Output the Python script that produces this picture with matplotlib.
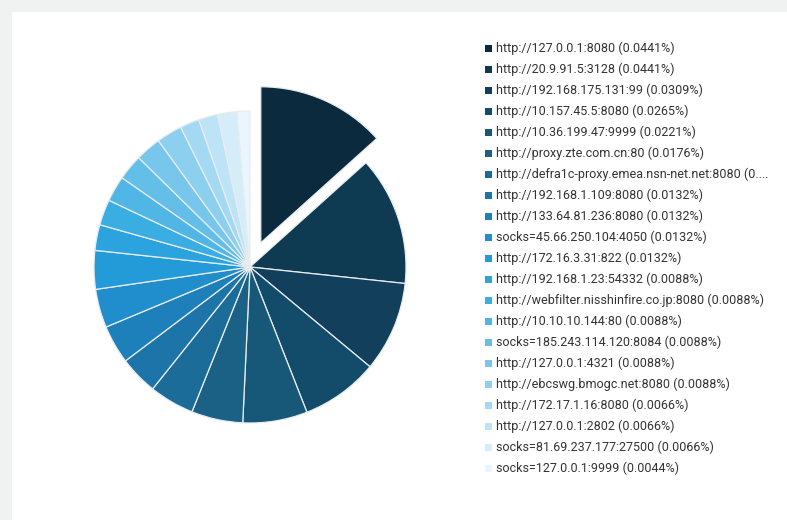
import matplotlib
matplotlib.use('Agg')
import matplotlib.pyplot as plt
from matplotlib.patches import Rectangle

plt.rcParams['font.family'] = ['Roboto', 'DejaVu Sans']

# proxy share (%)
proxies = [
    'http://127.0.0.1:8080', 'http://20.9.91.5:3128', 'http://192.168.175.131:99',
    'http://10.157.45.5:8080', 'http://10.36.199.47:9999', 'http://proxy.zte.com.cn:80',
    'http://defra1c-proxy.emea.nsn-net.net:8080', 'http://192.168.1.109:8080',
    'http://133.64.81.236:8080', 'socks=45.66.250.104:4050', 'http://172.16.3.31:822',
    'http://192.168.1.23:54332', 'http://webfilter.nisshinfire.co.jp:8080',
    'http://10.10.10.144:80', 'socks=185.243.114.120:8084', 'http://127.0.0.1:4321',
    'http://ebcswg.bmogc.net:8080', 'http://172.17.1.16:8080', 'http://127.0.0.1:2802',
    'socks=81.69.237.177:27500', 'socks=127.0.0.1:9999',
]
shares = [0.0441, 0.0441, 0.0309, 0.0265, 0.0221, 0.0176, 0.0154, 0.0132, 0.0132,
          0.0132, 0.0132, 0.0088, 0.0088, 0.0088, 0.0088, 0.0088, 0.0088, 0.0066,
          0.0066, 0.0066, 0.0044]
colors = ['#0c2a3e', '#0e3a52', '#113f5c', '#134c6b', '#175878', '#1a6185',
          '#1b6c98', '#1c74a8', '#1e80ba', '#208ecc', '#239bd9', '#2aa3df',
          '#3aaee3', '#4fb6e6', '#63bee8', '#78c6eb', '#8ccfee', '#a3d9f2',
          '#bde3f6', '#d4edf9', '#eaf6fd']

W, H = 787, 520
fig = plt.figure(figsize=(W / 100, H / 100), dpi=100, facecolor='#f0f1f1')
fig.patches.append(Rectangle((12 / W, 0), 1, 1 - 12 / H, transform=fig.transFigure,
                             facecolor='white', edgecolor='none', zorder=-5))

# pie
cx, cy, r, half = 250, 267, 156, 200
ax = fig.add_axes([(cx - half) / W, (H - cy - half) / H, 2 * half / W, 2 * half / H])
ax.set_zorder(2)
ax.patch.set_visible(False)
explode = [0.17] + [0] * (len(shares) - 1)
ax.pie(shares, colors=colors, explode=explode, startangle=90, counterclock=False,
       wedgeprops=dict(edgecolor='#e8ecef', linewidth=0.9))
ax.set_xlim(-half / r, half / r)
ax.set_ylim(-half / r, half / r)
ax.axis('off')

# legend
for i, (name, val, c) in enumerate(zip(proxies, shares, colors)):
    y = H - (48 + 21 * i)
    label = f'{name} ({val:.4f}%)'
    if len(label) > 50:
        label = label[:45] + '....'
    fig.patches.append(Rectangle((485 / W, (y - 3.5) / H), 7 / W, 7 / H,
                                 transform=fig.transFigure, facecolor=c, edgecolor='none'))
    fig.text(496 / W, y / H, label, fontsize=9, color='#333333', va='center', ha='left')

fig.savefig('out.png', dpi=100, facecolor=fig.get_facecolor())
